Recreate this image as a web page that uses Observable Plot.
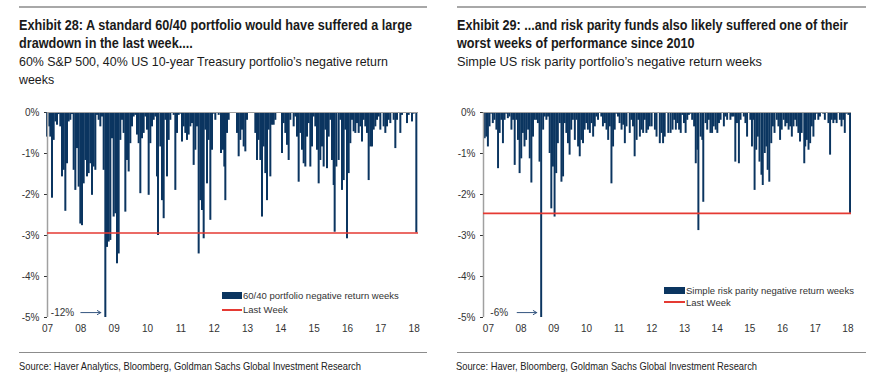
<!DOCTYPE html>
<html><head><meta charset="utf-8">
<script src="https://cdn.jsdelivr.net/npm/d3@7"></script>
<script src="https://cdn.jsdelivr.net/npm/@observablehq/plot@0.6"></script>
<style>
body{margin:0;background:#fff;width:875px;height:382px;position:relative;overflow:hidden;font-family:"Liberation Sans",Arial,sans-serif;color:#1a1a1a;}
.rule{position:absolute;height:0;}
.title{position:absolute;font-family:"Liberation Sans Narrow","Arial Narrow","Liberation Sans",sans-serif;font-weight:bold;font-size:15px;line-height:18px;white-space:nowrap;transform-origin:0 0;color:#1a1a1a;}
.sub{position:absolute;font-size:13px;line-height:18px;white-space:nowrap;transform-origin:0 0;color:#1a1a1a;}
.title span,.sub span{display:inline-block;}
.src{position:absolute;font-family:"Liberation Sans Narrow","Arial Narrow","Liberation Sans",sans-serif;font-size:10.5px;line-height:12px;white-space:nowrap;transform-origin:0 0;color:#222;}
.chart{position:absolute;top:100px;}
.leg{position:absolute;font-size:9.5px;line-height:11px;white-space:nowrap;color:#333;}
.sw{position:absolute;}
</style></head>
<body>
<div class="rule" style="left:19px;top:6px;width:408px;border-top:2px solid #a8a8a8"></div>
<div class="rule" style="left:457px;top:6px;width:409px;border-top:2px solid #a8a8a8"></div>

<div class="title" id="t1" data-w="393" style="left:19px;top:16px"><span>Exhibit 28: A standard 60/40 portfolio would have suffered a large</span><br><span>drawdown in the last week....</span></div>
<div class="sub" id="s1" data-w="369" style="left:19px;top:53px"><span>60% S&amp;P 500, 40% US 10-year Treasury portfolio’s negative return</span><br><span>weeks</span></div>

<div class="title" id="t2" data-w="391" style="left:457px;top:16px"><span>Exhibit 29: ...and risk parity funds also likely suffered one of their</span><br><span>worst weeks of performance since 2010</span></div>
<div class="sub" id="s2" data-w="305" style="left:457px;top:53px"><span>Simple US risk parity portfolio’s negative return weeks</span></div>

<div class="chart" id="c1" style="left:0px"></div>
<div class="chart" id="c2" style="left:440px"></div>

<div class="sw" style="left:222px;top:292px;width:20px;height:7px;background:#0b3560"></div>
<div class="leg" style="left:243px;top:290px" id="l1a"></div>
<div class="sw" style="left:222px;top:309px;width:20px;height:2px;background:#e53a33"></div>
<div class="leg" style="left:243px;top:304px" id="l1b"></div>

<div class="sw" style="left:664px;top:287px;width:21px;height:7px;background:#0b3560"></div>
<div class="leg" style="left:686px;top:285px" id="l2a"></div>
<div class="sw" style="left:664px;top:301px;width:21px;height:2px;background:#e53a33"></div>
<div class="leg" style="left:686px;top:297px" id="l2b"></div>

<div class="rule" style="left:19px;top:352px;width:408px;border-top:1px solid #8c8c8c"></div>
<div class="rule" style="left:457px;top:352px;width:409px;border-top:1px solid #8c8c8c"></div>
<div class="src" id="src1" data-w="342" style="left:19px;top:360px">Source: Haver Analytics, Bloomberg, Goldman Sachs Global Investment Research</div>
<div class="src" id="src2" data-w="301" style="left:456px;top:360px">Source: Haver, Bloomberg, Goldman Sachs Global Investment Research</div>

<script>
// ---------- data ----------
const yearTicks = [2007,2008,2009,2010,2011,2012,2013,2014,2015,2016,2017,2018];
const yearLabels = ["07","08","09","10","11","12","13","14","15","16","17","18"];
const pctTicks = [0,-1,-2,-3,-4,-5];
const pctLabels = ["0%","-1%","-2%","-3%","-4%","-5%"];

const leftSeriesName = "60/40 portfolio negative return weeks";
const rightSeriesName = "Simple risk parity negative return weeks";
const lastWeekName = "Last Week";
const leftClipLabel = "-12%";
const rightClipLabel = "-6%";

// 60/40 portfolio: week (decimal year) and negative return (%)
const leftWeeks = [
2007.00,2007.07,2007.10,2007.15,2007.20,2007.25,2007.30,2007.35,2007.40,2007.45,2007.50,2007.55,2007.60,2007.65,2007.70,2007.75,2007.80,2007.85,2007.90,2007.95,
2008.00,2008.05,2008.10,2008.15,2008.20,2008.25,2008.30,2008.35,2008.40,2008.45,2008.50,2008.55,2008.60,2008.65,2008.70,2008.75,2008.80,2008.85,2008.90,2008.95,
2009.00,2009.05,2009.10,2009.15,2009.20,2009.25,2009.30,2009.35,2009.40,2009.45,2009.50,2009.55,2009.60,2009.65,2009.70,2009.75,2009.80,2009.85,2009.90,2009.95,
2010.00,2010.05,2010.10,2010.15,2010.20,2010.25,2010.30,2010.33,2010.40,2010.45,2010.50,2010.55,2010.60,2010.65,2010.70,2010.80,2010.85,2010.90,2010.95,
2011.00,2011.05,2011.10,2011.15,2011.20,2011.25,2011.30,2011.35,2011.40,2011.45,2011.50,2011.55,2011.60,2011.65,2011.70,2011.75,2011.80,2011.85,2011.90,2011.95,
2012.00,2012.05,2012.15,2012.22,2012.28,2012.32,2012.35,2012.40,2012.45,2012.70,2012.75,2012.80,2012.85,2012.90,2012.95,
2013.00,2013.25,2013.30,2013.35,2013.40,2013.45,2013.50,2013.55,2013.60,2013.65,2013.70,2013.75,2013.80,2013.85,
2014.05,2014.10,2014.15,2014.20,2014.25,2014.30,2014.40,2014.45,2014.50,2014.55,2014.60,2014.65,2014.70,2014.75,2014.80,2014.85,2014.90,2014.95,
2015.00,2015.05,2015.10,2015.15,2015.20,2015.25,2015.30,2015.35,2015.40,2015.45,2015.50,2015.55,2015.60,2015.63,2015.68,2015.75,2015.80,2015.85,2015.90,2015.95,
2016.00,2016.05,2016.10,2016.15,2016.20,2016.25,2016.30,2016.35,2016.40,2016.45,2016.50,2016.55,2016.60,2016.65,2016.70,2016.75,2016.80,2016.85,2016.90,2016.95,
2017.00,2017.10,2017.15,2017.20,2017.25,2017.30,2017.40,2017.45,2017.50,2017.60,2017.65,2017.80,2017.85,2017.95,
2018.00,2018.08];
const leftReturns = [
-0.60,-0.35,-0.60,-2.09,-0.68,-0.23,-0.31,-0.05,-0.35,-1.57,-1.41,-2.41,-1.25,-0.23,-0.19,-0.05,-1.41,-1.90,-0.88,-1.82,
-2.72,-2.76,-1.74,-1.17,-1.57,-1.49,-1.25,-2.02,-1.33,-1.41,-0.07,-0.19,-0.35,-0.11,-1.41,-12.0,-3.29,-3.16,-3.12,-0.64,
-2.55,-2.47,-3.69,-3.45,-0.68,-0.19,-0.51,-2.43,-1.17,-1.45,-0.76,-0.35,-0.11,-0.07,-0.55,-0.76,-1.98,-0.64,-0.51,-0.11,
-0.43,-2.02,-0.76,-0.35,-0.19,-0.11,-1.57,-3.00,-0.84,-2.15,-2.59,-0.19,-1.57,-0.68,-0.19,-0.07,-1.90,-0.51,-0.07,
-0.04,-0.72,-0.35,-0.51,-0.68,-0.55,-0.35,-0.27,-1.29,-0.92,-0.35,-3.45,-2.15,-2.39,-3.08,-0.43,-1.74,-0.68,-2.63,-0.92,
-0.04,-0.19,-0.07,-1.00,-0.92,-1.33,-2.15,-0.51,-0.19,-0.51,-1.08,-0.68,-0.43,-0.84,-0.96,
-0.19,-0.51,-1.17,-0.68,-1.17,-2.55,-0.84,-1.49,-2.15,-0.43,-1.57,-0.31,-0.31,-0.19,
-1.00,-0.27,-0.51,-0.80,-1.17,-0.19,-0.35,-0.11,-0.60,-1.70,-0.51,-0.92,-1.25,-1.33,-0.60,-0.27,-1.33,-0.84,
-0.11,-0.35,-0.92,-1.74,-1.17,-0.84,-1.33,-0.43,-1.37,-0.60,-0.19,-1.17,-1.78,-2.92,-1.33,-1.17,-0.19,-1.90,-1.66,-0.43,
-3.08,-1.49,-0.76,-0.19,-0.47,-0.51,-0.27,-0.51,-0.35,-0.72,-0.19,-0.35,-0.51,-1.66,-0.84,-0.84,-0.43,-0.35,-0.19,-0.11,
-0.43,-0.35,-0.51,-0.35,-0.19,-0.27,-0.19,-0.88,-0.19,-0.51,-0.07,-0.27,-0.07,-0.23,
-0.04,-2.94];

// Simple risk parity portfolio
const rightWeeks = [
2006.90,2006.95,2007.00,2007.05,2007.10,2007.15,2007.20,2007.26,2007.31,2007.36,2007.41,2007.46,2007.51,2007.56,2007.61,2007.66,2007.72,2007.77,2007.82,2007.87,2007.92,2007.97,
2008.02,2008.07,2008.12,2008.17,2008.23,2008.28,2008.33,2008.38,2008.43,2008.48,2008.53,2008.58,2008.63,2008.69,2008.74,2008.79,2008.84,2008.89,2008.94,2008.99,
2009.04,2009.09,2009.14,2009.20,2009.25,2009.30,2009.35,2009.40,2009.45,2009.50,2009.55,2009.60,2009.66,2009.71,2009.76,2009.81,2009.86,2009.91,2009.96,
2010.01,2010.06,2010.12,2010.17,2010.22,2010.27,2010.32,2010.37,2010.47,2010.52,2010.58,2010.63,2010.68,2010.73,2010.78,2010.83,2010.88,2010.93,2010.98,
2011.03,2011.09,2011.14,2011.19,2011.24,2011.34,2011.39,2011.44,2011.49,2011.55,2011.60,2011.65,2011.70,2011.75,2011.80,2011.85,2011.90,2011.95,
2012.01,2012.11,2012.16,2012.26,2012.31,2012.36,2012.41,2012.52,2012.59,2012.65,2012.70,2012.75,2012.80,2012.85,2012.90,2012.95,
2013.00,2013.05,2013.10,2013.15,2013.20,2013.25,2013.31,2013.36,2013.41,2013.44,2013.51,2013.56,2013.59,2013.66,2013.71,2013.76,2013.81,2013.86,2013.91,2013.97,
2014.02,2014.07,2014.12,2014.22,2014.27,2014.32,2014.42,2014.47,2014.52,2014.57,2014.62,2014.68,2014.73,2014.83,2014.88,2014.93,
2015.03,2015.08,2015.13,2015.16,2015.21,2015.26,2015.31,2015.37,2015.41,2015.47,2015.52,2015.56,2015.61,2015.67,2015.72,2015.77,2015.84,2015.89,2015.94,2015.99,
2016.05,2016.10,2016.15,2016.20,2016.25,2016.30,2016.35,2016.40,2016.45,2016.50,2016.55,2016.60,2016.68,2016.71,2016.76,2016.81,2016.86,2016.91,2016.96,
2017.01,2017.06,2017.11,2017.16,2017.26,2017.31,2017.42,2017.47,2017.52,2017.57,2017.62,2017.67,2017.77,2017.82,2017.87,2017.92,2017.97,
2018.03,2018.08];
const rightReturns = [
-0.64,-0.60,-0.84,-0.35,-0.04,-0.27,-0.19,-0.43,-1.37,-0.51,-0.19,-0.76,-0.19,-0.04,-0.15,-0.11,-0.43,-0.19,-1.29,-0.19,-0.68,-1.49,
-1.13,-0.51,-0.84,-0.68,-0.43,-1.13,-1.72,-0.60,-0.19,-0.19,-0.27,-1.21,-6.0,-0.43,-0.11,-0.19,-0.11,-1.00,-2.35,-1.33,
-2.55,-1.49,-0.76,-0.27,-1.70,-1.57,-0.27,-0.51,-0.76,-1.04,-0.43,-0.19,-0.68,-0.19,-0.84,-1.08,-0.68,-0.76,-0.43,
-0.27,-0.43,-0.51,-0.27,-0.60,-0.35,-0.11,-0.19,-0.11,-0.35,-0.27,-0.43,-0.68,-0.35,-1.74,-0.84,-0.43,-0.04,-0.11,
-0.27,-0.43,-0.31,-0.76,-0.35,-0.51,-0.19,-0.35,-1.08,-0.68,-0.19,-0.60,-0.43,-0.51,-0.19,-0.51,-0.43,-0.35,
-0.35,-0.43,-0.60,-0.76,-0.51,-0.76,-0.60,-0.51,-0.51,-0.43,-0.19,-0.43,-0.27,-0.43,-0.51,-0.07,
-0.27,-0.51,-0.19,-0.07,-0.04,-0.19,-0.35,-1.25,-0.92,-2.88,-0.60,-0.68,-2.19,-0.27,-0.43,-0.19,-0.51,-0.51,-0.35,-0.43,
-0.51,-0.27,-0.19,-0.35,-0.11,-0.19,-0.19,-0.11,-0.11,-1.21,-0.27,-1.25,-0.19,-0.11,-0.27,-0.60,
-0.19,-0.84,-0.19,-1.90,-0.92,-0.60,-1.21,-1.53,-1.78,-1.00,-0.84,-1.41,-1.70,-0.76,-0.35,-0.51,-0.19,-0.35,-0.68,-0.43,
-0.19,-0.35,-0.27,-0.43,-0.35,-0.60,-0.35,-0.19,-0.35,-0.51,-0.72,-0.51,-1.25,-0.84,-0.68,-0.92,-0.76,-0.35,-0.60,
-0.19,-0.04,-0.19,-0.11,-0.04,-0.19,-0.27,-1.04,-0.19,-0.27,-0.19,-0.27,-0.19,-0.35,-0.19,-0.51,-0.04,
-0.07,-2.46];

// ---------- drawing ----------
const navy = "#0b3560", red = "#e53a33", axisGray = "#a0a0a0";
const font = "'Liberation Sans', Arial, sans-serif";

function makeChart(weeks, returns, clipLabel, domain, width, ml, mr) {
  const data = weeks.map((t, i) => ({t, v: returns[i]}));
  const last = data[data.length - 1];
  const worst = data.reduce((a, b) => (b.v < a.v ? b : a));
  const half = 0.03;
  return Plot.plot({
    width, height: 240,
    marginLeft: ml, marginRight: mr, marginTop: 12, marginBottom: 23,
    style: {fontFamily: font, fontSize: "10px", color: "#333", background: "transparent", overflow: "visible"},
    x: {domain, ticks: yearTicks, tickFormat: d => yearLabels[yearTicks.indexOf(d)], tickSize: 0, tickPadding: 7, label: null},
    y: {domain: [-5, 0], ticks: pctTicks, tickFormat: d => pctLabels[pctTicks.indexOf(d)], tickSize: 3, tickPadding: 5, label: null},
    marks: [
      Plot.rect(data, {x1: d => d.t - half, x2: d => d.t + half, y1: 0, y2: d => Math.max(d.v, -5), fill: navy}),
      Plot.ruleY([0], {stroke: axisGray, strokeWidth: 1.2}),
      Plot.ruleX([domain[0]], {stroke: axisGray, strokeWidth: 1.5}),
      Plot.ruleY([last.v], {stroke: red, strokeWidth: 1.6}),
      Plot.text([clipLabel], {x: worst.t - 1.3, y: -4.88, text: d => d, fill: "#333", fontSize: 10}),
      Plot.arrow([worst], {x1: d => d.t - 0.75, x2: d => d.t - 0.15, y1: -4.88, y2: -4.88, stroke: "#34557f", strokeWidth: 1, headLength: 6})
    ]
  });
}

document.getElementById("c1").appendChild(makeChart(leftWeeks, leftReturns, leftClipLabel, [2007.0, 2018.13], 440, 47, 22));
document.getElementById("c2").appendChild(makeChart(rightWeeks, rightReturns, rightClipLabel, [2006.85, 2018.11], 435, 43, 24));

document.getElementById("l1a").textContent = leftSeriesName;
document.getElementById("l1b").textContent = lastWeekName;
document.getElementById("l2a").textContent = rightSeriesName;
document.getElementById("l2b").textContent = lastWeekName;

// fit text blocks horizontally to the reference widths
for (const el of document.querySelectorAll("[data-w]")) {
  const target = +el.dataset.w;
  let w = 0;
  const spans = el.querySelectorAll("span");
  if (spans.length) spans.forEach(s => { w = Math.max(w, s.getBoundingClientRect().width); });
  else { const r = document.createRange(); r.selectNodeContents(el); w = r.getBoundingClientRect().width; }
  if (w > 0) el.style.transform = `scaleX(${target / w})`;
}
</script>
</body></html>
